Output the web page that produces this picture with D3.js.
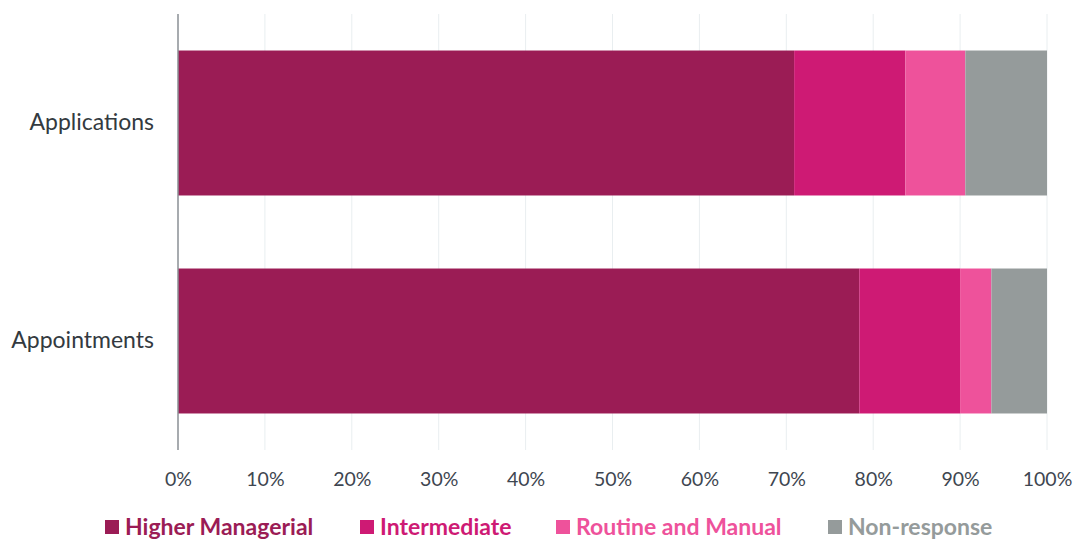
<!DOCTYPE html>
<meta charset="utf-8">
<style>
body { margin: 0; background: #fff; }
text { font-family: Lato, "Open Sans", sans-serif; }
</style>
<script src="https://d3js.org/d3.v7.min.js"></script>
<div id="chart"></div>
<script>
// data
const categories = ["Applications", "Appointments"];
const seriesNames = ["Higher Managerial", "Intermediate", "Routine and Manual", "Non-response"];
const higherManagerial = [70.9, 78.4];
const intermediate = [12.8, 11.6];
const routineManual = [6.9, 3.6];
const nonResponse = [9.4, 6.4];
const tickValues = [0, 10, 20, 30, 40, 50, 60, 70, 80, 90, 100];
const colors = ["#9b1c55", "#ce1a74", "#ee529b", "#959b9b"];

const W = 1076, H = 541;
const margin = {top: 14, right: 29, bottom: 91, left: 178};
const width = W - margin.left - margin.right,
      height = H - margin.top - margin.bottom;

const svg = d3.select("#chart").append("svg")
  .attr("width", W).attr("height", H);
const g = svg.append("g").attr("transform", `translate(${margin.left},${margin.top})`);

const x = d3.scaleLinear().domain([0, 100]).range([0, width]);
const y = d3.scaleBand().domain(categories).range([0, height]).paddingInner(0.335).paddingOuter(0.1675);

// grid
g.selectAll(".grid").data(tickValues.slice(1)).join("line")
  .attr("x1", d => x(d)).attr("x2", d => x(d))
  .attr("y1", 0).attr("y2", height)
  .attr("stroke", "#e9eef0").attr("stroke-width", 1);

// stacked data
const rows = categories.map((c, i) => ({
  cat: c,
  "Higher Managerial": higherManagerial[i],
  "Intermediate": intermediate[i],
  "Routine and Manual": routineManual[i],
  "Non-response": nonResponse[i]
}));
const stacked = d3.stack().keys(seriesNames)(rows);

g.selectAll(".series").data(stacked).join("g")
  .attr("fill", (d, i) => colors[i])
  .selectAll("rect").data(d => d).join("rect")
    .attr("x", d => x(d[0]))
    .attr("width", d => x(d[1]) - x(d[0]))
    .attr("y", d => y(d.data.cat))
    .attr("height", y.bandwidth());

// x axis labels
const xAxis = g.append("g")
  .attr("transform", `translate(0,${height})`)
  .call(d3.axisBottom(x).tickValues(tickValues).tickFormat(d => d + "%").tickSize(0).tickPadding(22));
xAxis.select(".domain").remove();
xAxis.selectAll("text").attr("fill", "#3e4650").style("font-size", "19.5px").style("font-family", "Lato, sans-serif");

// y axis
const yAxis = g.append("g")
  .call(d3.axisLeft(y).tickSize(0).tickPadding(24));
yAxis.select(".domain").remove();
yAxis.selectAll("text").attr("fill", "#333a40").style("font-size", "23px").style("font-family", "Lato, sans-serif");

g.append("line")
  .attr("x1", 0).attr("x2", 0).attr("y1", 0).attr("y2", height)
  .attr("stroke", "#8a8f94").attr("stroke-width", 1.5);

// legend
const legendX = [105, 360, 556, 828];
const legend = svg.append("g").attr("transform", `translate(0,527)`);
const items = legend.selectAll("g").data(seriesNames).join("g")
  .attr("transform", (d, i) => `translate(${legendX[i]},0)`);
items.append("rect")
  .attr("x", 0).attr("y", -7).attr("width", 14).attr("height", 14)
  .attr("fill", (d, i) => colors[i]);
items.append("text")
  .attr("x", 20).attr("dy", "0.35em")
  .attr("fill", (d, i) => colors[i])
  .style("font-size", "23px").style("font-weight", "bold")
  .text(d => d);
</script>
